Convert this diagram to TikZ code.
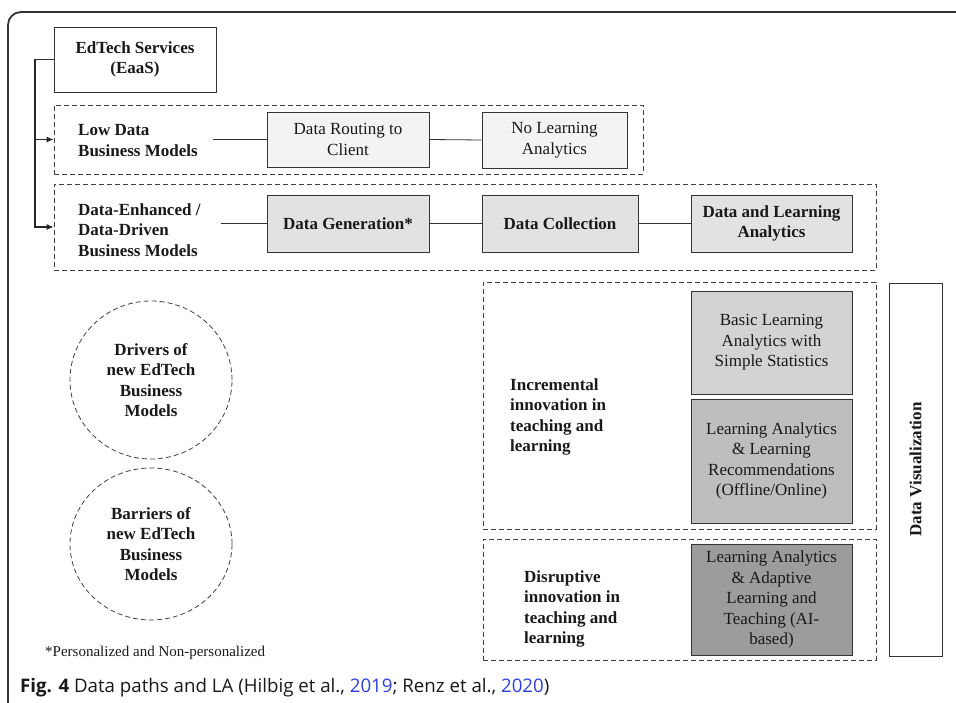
\documentclass[tikz,border=0pt]{standalone}
\usepackage{fontspec}
\setmainfont{Liberation Serif}
\newfontfamily\capfont{Open Sans}
\usetikzlibrary{shapes.geometric,arrows.meta}
\definecolor{pale}{HTML}{F3F3F3}
\definecolor{light}{HTML}{E2E2E2}
\definecolor{mid}{HTML}{D3D3D3}
\definecolor{deep}{HTML}{BEBEBE}
\definecolor{dark}{HTML}{9C9C9C}
\definecolor{linkblue}{HTML}{2F3FE0}

\begin{document}
\begin{tikzpicture}[
      x=1pt, y=-1pt,
      every node/.style={font=\fontsize{17}{20.5}\selectfont, text=black!90, inner sep=0pt, align=center},
      bold/.style={font=\fontsize{17}{20.5}\selectfont\bfseries},
      box/.style={rectangle, thick, draw=black!80, fill=white},
      dbox/.style={rectangle, thick, draw=black!75, dash pattern=on 5pt off 3pt},
      oval/.style={ellipse, thick, draw=black!75, dash pattern=on 5pt off 3pt},
      link/.style={thick, draw=black!80},
      pointer/.style={line width=1.1pt, -{Latex[length=7pt,width=6pt]}, draw=black!85},
      lbl/.style={bold, anchor=west, align=left}
      ]
      \useasboundingbox (0,0) rectangle (956,703);
      % frame of the figure
      \draw[line width=1.8pt, black!80, rounded corners=13pt] (8,703) -- (8,12) -- (956,12);

      % dashed groups
      \node[dbox, minimum width=589pt, minimum height=69pt] (lowbox) at (348.5,139.5) {};
      \node[dbox, minimum width=822pt, minimum height=86pt] (enhbox) at (465,227) {};
      \node[dbox, minimum width=393pt, minimum height=247pt] (incbox) at (679.5,405.5) {};
      \node[dbox, minimum width=393pt, minimum height=121pt] (disbox) at (679.5,599.5) {};

      \node[box, bold, minimum width=162pt, minimum height=65pt] (edtech) at (135,59.5) {EdTech Services\\(EaaS)};

      \node[lbl] (lowlabel) at (78,140.5) {Low Data\\Business Models};
      \node[lbl] (enhlabel) at (78,230) {Data-Enhanced /\\Data-Driven\\Business Models};
      \node[lbl] (inclabel) at (510,417) {Incremental\\innovation in\\teaching and\\learning};
      \node[lbl] (dislabel) at (524,609) {Disruptive\\innovation in\\teaching and\\learning};

      % data paths
      \node[box, fill=pale, minimum width=162pt, minimum height=55pt] (routing) at (348,139.5) {Data Routing to\\Client};
      \node[box, fill=pale, minimum width=145pt, minimum height=56pt] (nola) at (554.5,140) {No Learning\\Analytics};
      \node[box, bold, fill=light, minimum width=162pt, minimum height=57pt] (gen) at (348,223.5) {Data Generation*};
      \node[box, bold, fill=light, minimum width=156pt, minimum height=57pt] (coll) at (560,223.5) {Data Collection};
      \node[box, bold, fill=light, minimum width=161pt, minimum height=57pt] (dla) at (771.5,223.5) {Data and Learning\\Analytics};

      % kinds of analytics
      \node[box, fill=mid, minimum width=161pt, minimum height=103pt] (basic) at (771.5,342.5) {Basic Learning\\Analytics with\\Simple Statistics};
      \node[box, fill=deep, minimum width=161pt, minimum height=124pt] (recom) at (771.5,461) {Learning Analytics\\\& Learning\\Recommendations\\(Offline/Online)};
      \node[box, fill=dark, minimum width=161pt, minimum height=111pt] (adapt) at (771.5,599.5) {Learning Analytics\\\& Adaptive\\Learning and\\Teaching (AI-\\based)};
      \node[box, bold, rotate=90, minimum width=373pt, minimum height=53pt] (dataviz) at (915.5,469.5) {Data Visualization};

      \node[oval, bold, minimum width=162pt, minimum height=158pt] (drivers) at (151,380) {Drivers of\\new EdTech\\Business\\Models};
      \node[oval, bold, minimum width=162pt, minimum height=152pt] (barriers) at (151,544) {Barriers of\\new EdTech\\Business\\Models};

      \node[anchor=west, font=\fontsize{15}{18}\selectfont] (note) at (45,653) {*Personalized and Non-personalized};
      \node[anchor=west, font=\capfont\fontsize{18.7}{22}\selectfont] (caption) at (20,688)
        {\textbf{Fig. 4} Data paths and LA (Hilbig et al., \textcolor{linkblue}{2019}; Renz et al., \textcolor{linkblue}{2020})};

      % connectors
      \coordinate (split) at (35,59.5);
      \coordinate (lowend) at ([xshift=15pt]lowlabel.east);
      \coordinate (enhend) at ([xshift=20pt]enhlabel.east);
      \draw[link, line width=1.1pt] (edtech.west) -- (split);
      \draw[pointer] (split) |- (lowbox.west);
      \draw[pointer] (split) |- (enhbox.west);
      \draw[link] (routing.west -| lowend) -- (routing.west);
      \draw[link] (routing.east) -- (nola.west);
      \draw[link] (gen.west -| enhend) -- (gen.west);
      \draw[link] (gen.east) -- (coll.west);
      \draw[link] (coll.east) -- (dla.west);
    \end{tikzpicture}
\end{document}
